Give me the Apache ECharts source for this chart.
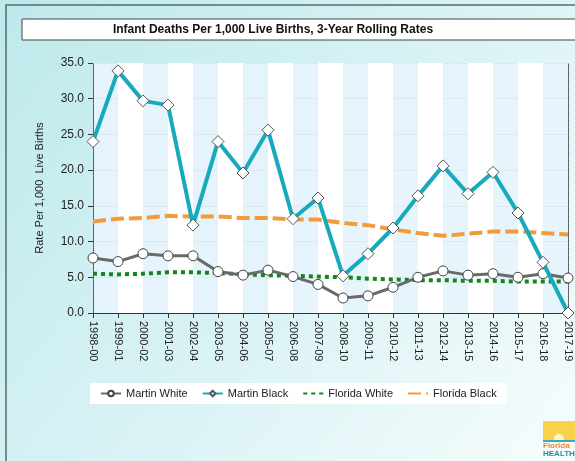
<!DOCTYPE html>
<html>
<head>
<meta charset="utf-8">
<script src="https://cdn.jsdelivr.net/npm/echarts@6/dist/echarts.min.js"></script>
<style>html,body{margin:0;padding:0;}#c{width:575px;height:461px;}</style>
</head>
<body>
<div id="c"></div>
<script>
const categories = ['1998-00','1999-01','2000-02','2001-03','2002-04','2003-05','2004-06','2005-07','2006-08','2007-09','2008-10','2009-11','2010-12','2011-13','2012-14','2013-15','2014-16','2015-17','2016-18','2017-19'];
const martinWhite = [7.7,7.2,8.3,8.0,8.0,5.8,5.3,6.0,5.1,4.0,2.1,2.4,3.6,5.0,5.9,5.3,5.5,5.0,5.5,4.9];
const martinBlack = [24.0,33.9,29.7,29.1,12.3,24.0,19.6,25.6,13.2,16.1,5.2,8.3,11.9,16.4,20.6,16.7,19.7,14.0,7.1,0.0];
const floridaWhite = [5.5,5.4,5.5,5.7,5.7,5.6,5.4,5.3,5.2,5.1,5.0,4.8,4.7,4.6,4.6,4.5,4.5,4.4,4.4,4.4];
const floridaBlack = [12.8,13.2,13.3,13.6,13.5,13.5,13.3,13.3,13.1,13.1,12.6,12.3,11.7,11.2,10.8,11.1,11.4,11.4,11.2,11.0];
const yTicks = ['0.0','5.0','10.0','15.0','20.0','25.0','30.0','35.0'];

const chart = echarts.init(document.getElementById('c'));
const font = 'Liberation Sans, Arial, sans-serif';
chart.setOption({
  animation: false,
  backgroundColor: new echarts.graphic.LinearGradient(0, 0, 1, 1, [
    {offset: 0, color: '#bde9ec'},
    {offset: 0.6, color: '#def4f6'},
    {offset: 1, color: '#f7fcfc'}
  ]),
  textStyle: {fontFamily: font},
  graphic: [
    {type: 'rect', shape: {x: 6, y: 5, width: 580, height: 470}, style: {fill: 'none', stroke: '#5a6a6a', lineWidth: 1.5}, z: 100},
    {type: 'rect', shape: {x: 22, y: 19, width: 560, height: 21}, style: {fill: '#ffffff', stroke: '#444', lineWidth: 1}, z: 50},
    {type: 'text', x: 273, y: 30, style: {text: 'Infant Deaths Per 1,000 Live Births, 3-Year Rolling Rates', fontFamily: font, fontSize: 12, fontWeight: 'bold', fill: '#111', align: 'center', verticalAlign: 'middle'}, z: 51},
    {type: 'group', x: 543, y: 421, z: 60, children: [
      {type: 'rect', shape: {x: 0, y: 0, width: 32, height: 19}, style: {fill: '#f7d24a'}},
      {type: 'circle', shape: {cx: 16, cy: 18, r: 5}, style: {fill: '#fff6c8'}},
      {type: 'rect', shape: {x: 0, y: 19, width: 32, height: 2}, style: {fill: '#3aa7c7'}},
      {type: 'text', x: 0, y: 21, style: {text: 'Florida', fontFamily: font, fontSize: 8, fontWeight: 'bold', fill: '#f08a2a'}},
      {type: 'text', x: 0, y: 29, style: {text: 'HEALTH', fontFamily: font, fontSize: 8, fontWeight: 'bold', fill: '#1a8fb0'}}
    ]}
  ],
  legend: {
    left: 90, top: 383,
    backgroundColor: '#ffffff',
    padding: [5, 10, 5, 10],
    itemGap: 14,
    itemWidth: 20, itemHeight: 7,
    textStyle: {fontFamily: font, fontSize: 11, color: '#222'},
    data: [
      {name: 'Martin White'},
      {name: 'Martin Black'},
      {name: 'Florida White', itemStyle: {opacity: 0}},
      {name: 'Florida Black', itemStyle: {opacity: 0}}
    ]
  },
  grid: {left: 93, right: 7, top: 63, bottom: 148, containLabel: false},
  xAxis: {
    type: 'category',
    data: categories,
    boundaryGap: false,
    axisLine: {lineStyle: {color: '#333', width: 1}},
    axisTick: {show: true, alignWithLabel: true, length: 5, lineStyle: {color: '#333'}},
    axisLabel: {rotate: -90, fontSize: 11, color: '#222', margin: 8, fontFamily: font, interval: 0},
    splitLine: {show: false},
    splitArea: {show: true, areaStyle: {color: ['rgba(230,243,252,0.95)', 'rgba(255,255,255,1)']}}
  },
  yAxis: [{
    type: 'value',
    min: 0, max: 35, interval: 5,
    name: 'Rate Per 1,000  Live Births',
    nameLocation: 'middle',
    nameGap: 48,
    nameTextStyle: {fontSize: 11, color: '#222', fontFamily: font},
    axisLine: {show: true, lineStyle: {color: '#444', type: 'dotted', width: 1}},
    axisTick: {show: true, length: 5, lineStyle: {color: '#333'}},
    axisLabel: {fontSize: 12, color: '#222', margin: 9, fontFamily: font, formatter: v => yTicks[v / 5]},
    splitLine: {show: true, lineStyle: {color: '#333', width: 1}}
  }, {
    type: 'value',
    position: 'right',
    min: 0, max: 35, interval: 5,
    axisLine: {show: true, lineStyle: {color: '#444', type: 'dotted', width: 1}},
    axisTick: {show: false},
    axisLabel: {show: false},
    splitLine: {show: false}
  }],
  series: [
    {
      name: 'Martin White', type: 'line', data: martinWhite,
      symbol: 'circle', symbolSize: 10,
      lineStyle: {color: '#6a6a6a', width: 3},
      itemStyle: {color: '#ffffff', borderColor: '#444', borderWidth: 1},
      z: 5
    },
    {
      name: 'Martin Black', type: 'line', data: martinBlack,
      symbol: 'diamond', symbolSize: 12,
      lineStyle: {color: '#17aabd', width: 4},
      itemStyle: {color: '#ffffff', borderColor: '#555', borderWidth: 1},
      z: 6
    },
    {
      name: 'Florida White', type: 'line', data: floridaWhite,
      symbol: 'none',
      lineStyle: {color: '#13861e', width: 4, type: [4, 4]},
      itemStyle: {color: '#13861e'},
      z: 4
    },
    {
      name: 'Florida Black', type: 'line', data: floridaBlack,
      symbol: 'none',
      lineStyle: {color: '#f39a3a', width: 4, type: [13, 5]},
      itemStyle: {color: '#f39a3a'},
      z: 3
    }
  ]
});
</script>
</body>
</html>
